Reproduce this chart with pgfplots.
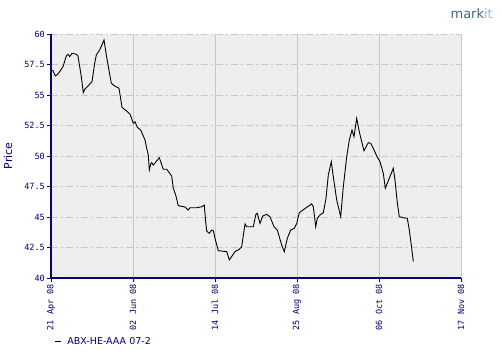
\documentclass[border=0pt]{standalone}
\usepackage{pgfplots}
\pgfplotsset{compat=1.18}
\usepackage{fontspec}
\setmainfont{DejaVu Sans}
\newfontfamily\monof{DejaVu Sans Mono}
\definecolor{navy}{RGB}{0,0,128}
\definecolor{bggray}{RGB}{238,238,238}
\definecolor{gridgray}{RGB}{200,200,200}
\definecolor{markdark}{RGB}{62,104,124}
\definecolor{marklight}{RGB}{150,185,200}
\begin{document}
\begin{tikzpicture}
\path[use as bounding box] (0bp,0bp) rectangle (502bp,359bp);
\begin{axis}[
  at={(51bp,81bp)}, anchor=south west,
  width=410bp, height=244bp, scale only axis,
  xmin=0, xmax=210, ymin=40, ymax=60,
  axis x line*=bottom, axis y line*=left,
  axis line style={draw=navy, line width=1.2bp, -},
  axis background/.style={fill=bggray},
  xtick={0,42,84,126,168,210},
  xticklabels={21 Apr 08,02 Jun 08,14 Jul 08,25 Aug 08,06 Oct 08,17 Nov 08},
  ytick={40,42.5,45,47.5,50,52.5,55,57.5,60},
  yticklabels={40,42.5,45,47.5,50,52.5,55,57.5,60},
  xmajorgrids, ymajorgrids,
  x grid style={gridgray, line width=0.9bp},
  y grid style={gridgray, line width=0.9bp, dash pattern=on 7bp off 3bp on 2bp off 3bp},
  tick align=outside, major tick length=4bp,
  tick style={navy, line width=0.9bp},
  x tick label style={rotate=90, anchor=east, font=\monof\fontsize{8.5bp}{10bp}\selectfont, text=navy, inner sep=2bp},
  y tick label style={font=\monof\fontsize{8.5bp}{10bp}\selectfont, text=navy, inner sep=2bp},
  ylabel={Price},
  ylabel style={at={(axis description cs:-0.0951,0.5)}, anchor=base, rotate=0, font=\fontsize{11bp}{13bp}\selectfont, text=navy, inner sep=0pt},
  legend style={at={(axis description cs:0.008,-0.262)}, anchor=west, draw=none, fill=none,
    font=\fontsize{9.5bp}{11bp}\selectfont, text=navy, inner sep=0pt},
  legend image code/.code={\draw[#1] (0bp,0bp) -- (6bp,0bp);},
]
\addplot[black, line width=0.9bp] coordinates {
(0,57.05) (1.02,56.99) (2.20,56.56) (3.59,56.72) (6.15,57.32) (7.84,58.20) (8.71,58.34) (9.58,58.14)
(10.76,58.42) (12.96,58.34) (13.83,58.20) (15.52,56.50) (16.54,55.19) (17.26,55.47) (18.95,55.74)
(21.0,56.09) (22.38,57.60) (23.20,58.28) (24.94,58.69) (27.15,59.51) (28.32,58.28) (30.89,55.96)
(32.63,55.74) (34.83,55.55) (36.37,53.99) (38.06,53.77) (40.46,53.44) (42.15,52.68) (43.02,52.81)
(44.20,52.35) (45.94,52.13) (48.15,51.31) (49.02,50.63) (49.84,50.08) (50.35,48.85) (51.07,49.34)
(51.58,49.45) (52.40,49.26) (55.47,49.86) (57.52,48.91) (59.26,48.91) (61.82,48.36) (62.64,47.35)
(63.87,46.80) (65.20,45.93) (68.63,45.82) (70.33,45.57) (71.19,45.76) (74.63,45.76) (77.19,45.84)
(78.52,45.98) (79.24,44.61) (79.75,43.85) (81.08,43.66) (82.31,43.93) (83.13,43.88) (84.0,43.25)
(85.70,42.24) (90.0,42.16) (91.32,41.48) (92.55,41.75) (94.24,42.16) (96.45,42.35) (97.67,42.57)
(99.37,44.43) (100.24,44.20) (103.6,44.20) (105.0,45.25) (105.66,45.30) (107.05,44.48) (108.43,45.08)
(110.48,45.22) (112.17,45.02) (114.22,44.20) (115.91,43.93) (118.16,42.70) (119.49,42.16) (121.03,43.25)
(122.77,43.93) (124.62,44.07) (125.85,44.48) (127.18,45.35) (130.97,45.80) (133.53,46.07) (134.35,45.84)
(135.58,44.20) (136.4,44.89) (137.78,45.16) (139.47,45.35) (140.85,46.53) (142.03,48.44) (143.57,49.53)
(144.59,48.30) (146.34,46.39) (148.38,45.03) (149.72,47.48) (151.46,49.94) (152.79,51.31) (154.17,52.13)
(155.19,51.58) (156.57,53.09) (157.9,51.99) (160.31,50.43) (162.52,51.09) (163.75,51.04) (165.08,50.63)
(166.82,50.0) (168.51,49.53) (170.20,48.58) (171.22,47.36) (173.27,48.17) (175.32,48.99) (176.19,48.03)
(177.37,46.17) (178.40,45.03) (180.45,44.94) (182.5,44.89) (183.52,43.93) (184.75,42.43) (185.57,41.34)
};
\addlegendentry{\hspace{4bp}ABX-HE-AAA 07-2}
\end{axis}
\node[anchor=base east, inner sep=0pt, font=\fontsize{13bp}{15bp}\selectfont] at (493bp,340bp) {\textcolor{markdark}{mark}\textcolor{marklight}{it}};
\end{tikzpicture}
\end{document}
